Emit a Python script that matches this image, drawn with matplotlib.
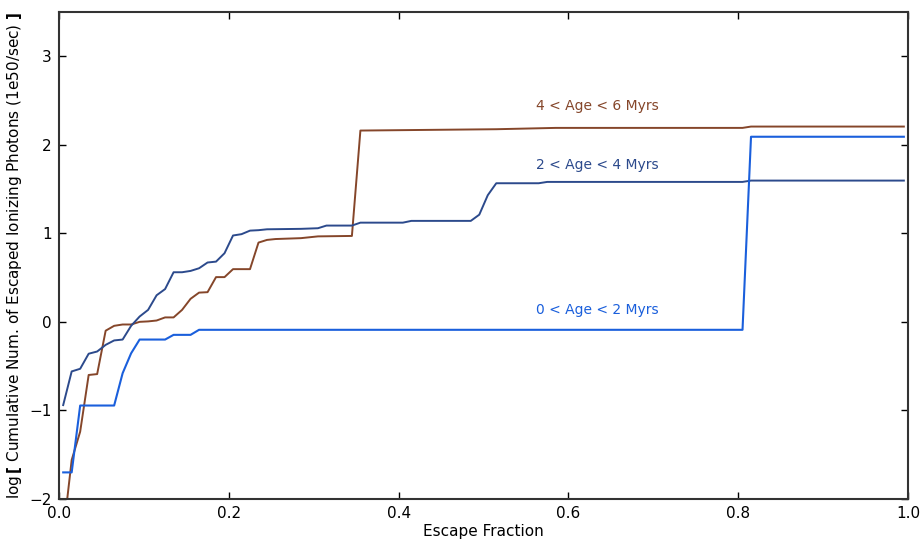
import numpy as np
import matplotlib
matplotlib.use("Agg")
import matplotlib.pyplot as plt

# cumulative escaped photons vs escape fraction, one curve per age bin
# (vertices of each curve; straight segments in between)
x_young = [0.005, 0.015, 0.025, 0.065, 0.075, 0.085, 0.095, 0.125, 0.135,
           0.155, 0.165, 0.805, 0.815, 0.995]
y_young = [-1.70, -1.70, -0.945, -0.945, -0.58, -0.355, -0.20, -0.20, -0.147,
           -0.147, -0.09, -0.09, 2.09, 2.09]

x_mid = [0.005, 0.015, 0.025, 0.035, 0.045, 0.055, 0.065, 0.075, 0.085,
         0.095, 0.105, 0.115, 0.125, 0.135, 0.145, 0.155, 0.165, 0.175,
         0.185, 0.195, 0.205, 0.215, 0.225, 0.235, 0.245, 0.285, 0.305,
         0.315, 0.345, 0.355, 0.405, 0.415, 0.485, 0.495, 0.505, 0.515,
         0.565, 0.575, 0.805, 0.815, 0.995]
y_mid = [-0.94, -0.56, -0.53, -0.36, -0.335, -0.26, -0.21, -0.20, -0.045,
         0.06, 0.135, 0.30, 0.37, 0.56, 0.56, 0.575, 0.605, 0.67,
         0.68, 0.775, 0.975, 0.99, 1.03, 1.035, 1.045, 1.05, 1.057,
         1.087, 1.087, 1.12, 1.12, 1.14, 1.14, 1.21, 1.43, 1.565,
         1.565, 1.58, 1.58, 1.595, 1.595]

x_old = [0.005, 0.015, 0.025, 0.035, 0.045, 0.055, 0.065, 0.075, 0.085,
         0.095, 0.105, 0.115, 0.125, 0.135, 0.145, 0.155, 0.165, 0.175,
         0.185, 0.195, 0.205, 0.225, 0.235, 0.245, 0.255, 0.285, 0.305,
         0.345, 0.355, 0.515, 0.585, 0.805, 0.815, 0.995]
y_old = [-2.40, -1.56, -1.24, -0.60, -0.59, -0.10, -0.045, -0.03, -0.03,
         0.0, 0.005, 0.015, 0.05, 0.05, 0.135, 0.26, 0.33, 0.335,
         0.505, 0.505, 0.595, 0.595, 0.895, 0.925, 0.935, 0.945, 0.965,
         0.97, 2.16, 2.175, 2.19, 2.19, 2.205, 2.205]

c_young = "#1a5fdc"
c_mid = "#2c4a8c"
c_old = "#85462a"

fig = plt.figure(figsize=(9.21, 5.40), dpi=100)
ax = fig.add_axes([0.064, 0.076, 0.922, 0.902])

ax.plot(x_old, y_old, color=c_old, lw=1.4)
ax.plot(x_mid, y_mid, color=c_mid, lw=1.4)
ax.plot(x_young, y_young, color=c_young, lw=1.5)

ax.text(0.634, 2.44, "4 < Age < 6 Myrs", color=c_old, fontsize=10,
        ha="center", va="center")
ax.text(0.634, 1.77, "2 < Age < 4 Myrs", color=c_mid, fontsize=10,
        ha="center", va="center")
ax.text(0.634, 0.135, "0 < Age < 2 Myrs", color=c_young, fontsize=10,
        ha="center", va="center")

ax.set_xlim(0, 1)
ax.set_ylim(-2, 3.5)
ax.set_xticks([0.0, 0.2, 0.4, 0.6, 0.8, 1.0])
ax.set_yticks([-2, -1, 0, 1, 2, 3])
ax.set_xlabel("Escape Fraction", fontsize=11, labelpad=2)
ax.set_ylabel(r"log$\,\mathbf{[}$ Cumulative Num. of Escaped Ionizing Photons (1e50/sec) $\mathbf{]}$",
              fontsize=11, labelpad=4)

for spine in ax.spines.values():
    spine.set_edgecolor("#333333")
    spine.set_linewidth(1.5)
ax.tick_params(direction="in", length=5, width=1, top=True, right=True,
               labelsize=11, pad=5)

fig.savefig("out.png", dpi=100)
